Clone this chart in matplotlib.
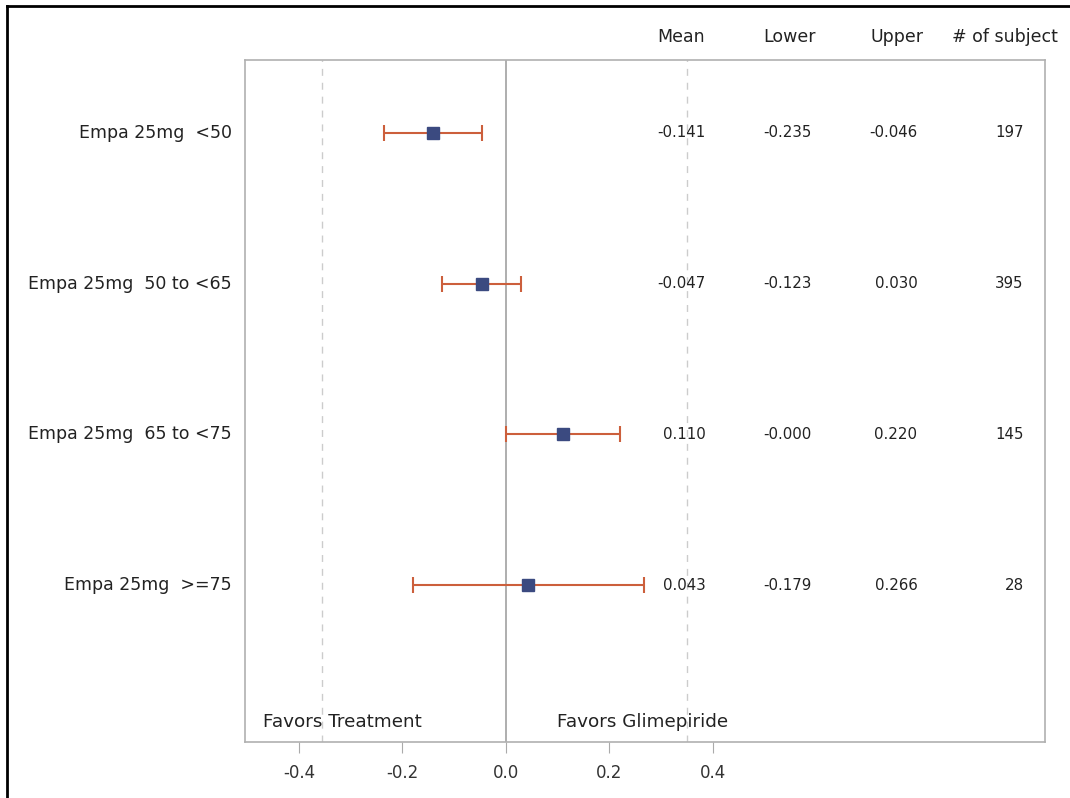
import numpy as np
import matplotlib.pyplot as plt
from matplotlib.lines import Line2D

plt.rcParams['font.family'] = ['DejaVu Sans']

labels = ["Empa 25mg  <50", "Empa 25mg  50 to <65", "Empa 25mg  65 to <75", "Empa 25mg  >=75"]
mean = [-0.141, -0.047, 0.110, 0.043]
lower = [-0.235, -0.123, -0.000, -0.179]
upper = [-0.046, 0.030, 0.220, 0.266]
nsub = [197, 395, 145, 28]
mean_txt = ["-0.141", "-0.047", "0.110", "0.043"]
lower_txt = ["-0.235", "-0.123", "-0.000", "-0.179"]
upper_txt = ["-0.046", "0.030", "0.220", "0.266"]
xticks = [-0.4, -0.2, 0.0, 0.2, 0.4]
ref_lines = [-0.356, 0.35]

fig = plt.figure(figsize=(10.7, 7.98), dpi=100)
ax = fig.add_axes([245/1070, 1-742/798, 800/1070, 682/798])

ypos = np.arange(1, len(labels)+1)
mean = np.array(mean)
err = [mean - np.array(lower), np.array(upper) - mean]

ax.axvline(0, color="#a8a8a8", lw=1.3, zorder=1)
for v in ref_lines:
    ax.axvline(v, color="#cccccc", lw=1, ls=(0, (5, 5)), zorder=1)

eb = ax.errorbar(mean, ypos, xerr=err, fmt="none", ecolor="#cc5f3c", elinewidth=1.5,
                 capsize=6, capthick=1.5, zorder=2)
for cl in eb[1]:
    cl.set_color("#7c4e42")
ax.plot(mean, ypos, "s", color="#3b4a80", ms=8.5, zorder=3)

ax.set_xlim(-0.504, 1.0415)
ax.set_ylim(5.04, 0.516)
ax.set_xticks(xticks)
ax.set_xticklabels([f"{t:.1f}" for t in xticks])
ax.set_yticks([])
ax.tick_params(axis="x", colors="#aaaaaa", labelcolor="#333333", labelsize=12, length=8, pad=8)
for s in ax.spines.values():
    s.set_color("#b0b0b0")
    s.set_linewidth(1.2)

txtc = "#222222"
fs_lab = 12.5
fs_val = 10.8
for i, y in enumerate(ypos):
    ax.text(-0.530, y, labels[i], ha="right", va="center", fontsize=fs_lab, color=txtc)
    ax.text(0.386, y, mean_txt[i], ha="right", va="center", fontsize=fs_val, color=txtc)
    ax.text(0.590, y, lower_txt[i], ha="right", va="center", fontsize=fs_val, color=txtc)
    ax.text(0.795, y, upper_txt[i], ha="right", va="center", fontsize=fs_val, color=txtc)
    ax.text(1.000, y, str(nsub[i]), ha="right", va="center", fontsize=fs_val, color=txtc)

hy = 0.363
ax.text(0.338, hy, "Mean", ha="center", va="center", fontsize=fs_lab, color=txtc, clip_on=False)
ax.text(0.547, hy, "Lower", ha="center", va="center", fontsize=fs_lab, color=txtc, clip_on=False)
ax.text(0.755, hy, "Upper", ha="center", va="center", fontsize=fs_lab, color=txtc, clip_on=False)
ax.text(0.964, hy, "# of subject", ha="center", va="center", fontsize=fs_lab, color=txtc, clip_on=False)

ax.text(-0.470, 4.91, "Favors Treatment", ha="left", va="center", fontsize=13.2, color=txtc)
ax.text(0.098, 4.91, "Favors Glimepiride", ha="left", va="center", fontsize=13.2, color=txtc)

# outer frame, cut off on the right and bottom like the original
fig.add_artist(Line2D([7/1070, 1.0], [1-6/798, 1-6/798], color="black", lw=2))
fig.add_artist(Line2D([7/1070, 7/1070], [0, 1-6/798], color="black", lw=2))

plt.savefig("out.png", dpi=100)
